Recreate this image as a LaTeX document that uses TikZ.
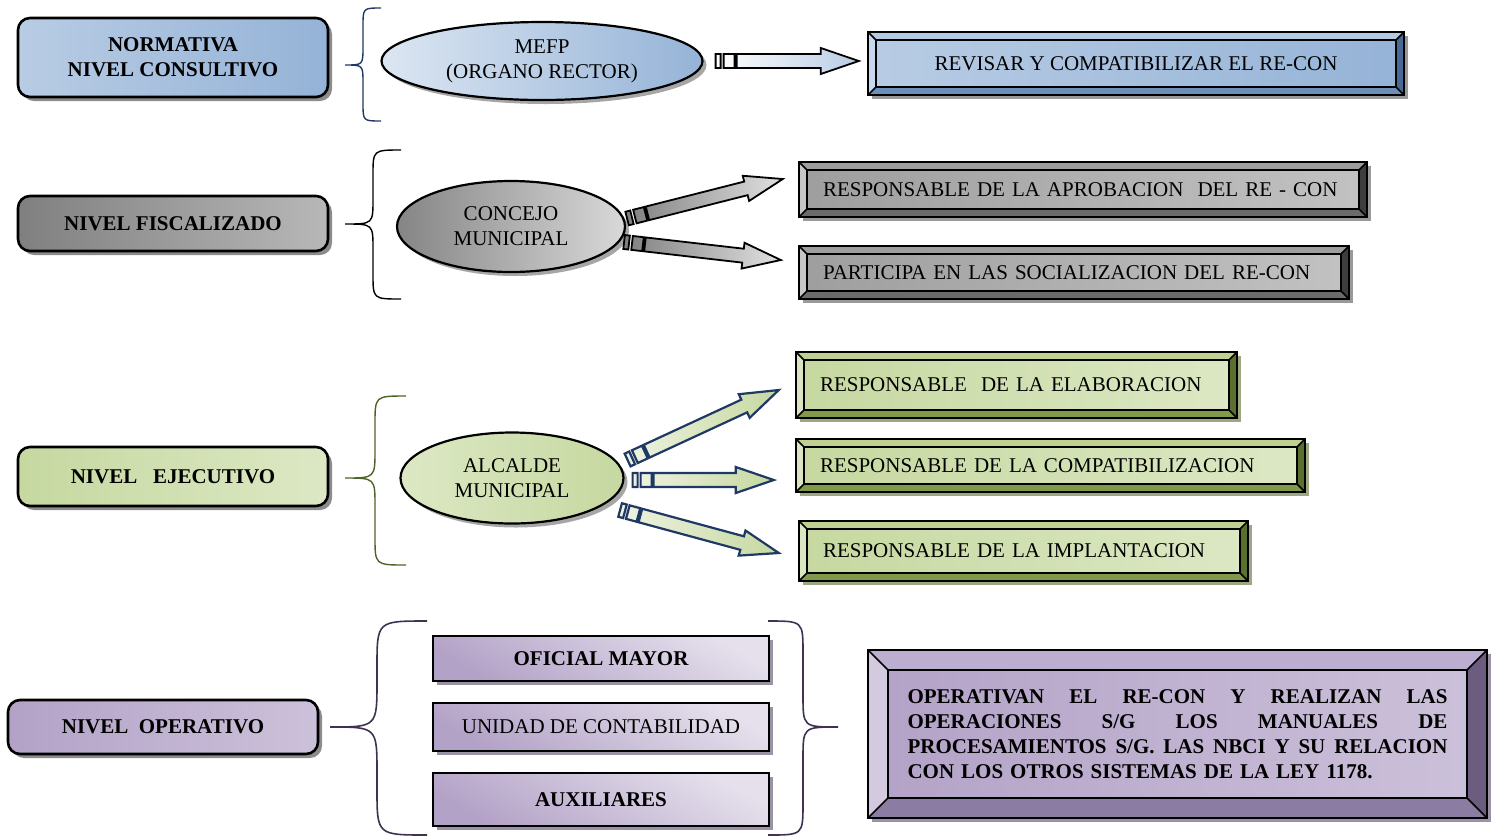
\documentclass[tikz,border=0pt]{standalone}
\usepackage{fontspec}
\setmainfont{Liberation Serif}
\usetikzlibrary{calc,shadows,shapes.geometric}

\definecolor{blueL}{HTML}{DCE6F2}
\definecolor{blueM}{HTML}{B8CCE4}
\definecolor{blueD}{HTML}{95B3D7}
\definecolor{blueTop}{HTML}{B4C9E4}
\definecolor{blueLeft}{HTML}{C8D8EC}
\definecolor{blueRight}{HTML}{4A6A96}
\definecolor{blueBot}{HTML}{6F8FBB}
\definecolor{greenL}{HTML}{EEF3E2}
\definecolor{greenM}{HTML}{DCE8C4}
\definecolor{greenD}{HTML}{C6D8A0}
\definecolor{greenTop}{HTML}{BED192}
\definecolor{greenLeft}{HTML}{DAE6C2}
\definecolor{greenRight}{HTML}{5A702E}
\definecolor{greenBot}{HTML}{809A4A}
\definecolor{greenSh}{HTML}{9DA883}
\definecolor{purpleL}{HTML}{E5E0EC}
\definecolor{purpleM}{HTML}{CCC1DA}
\definecolor{purpleD}{HTML}{B3A2C7}
\definecolor{purpleTop}{HTML}{BBAED0}
\definecolor{purpleLeft}{HTML}{D3CAE0}
\definecolor{purpleRight}{HTML}{6B5C80}
\definecolor{purpleBot}{HTML}{8A7CA2}
\definecolor{purpleSh}{HTML}{9A93A6}
\definecolor{braceblue}{HTML}{1F3864}
\definecolor{braceolive}{HTML}{4F6228}
\definecolor{bracepurple}{HTML}{3F3151}
\definecolor{arrblue}{HTML}{1F3864}

\tikzset{
	boxshadow/.style={drop shadow={shadow xshift=2pt, shadow yshift=-2pt, fill=#1, opacity=1}},
	levelbox/.style={rectangle, draw=black, line width=1.3pt, rounded corners=6pt, minimum width=155pt, inner sep=0pt, align=center, font=\fontsize{10.5}{12.5}\selectfont\bfseries, boxshadow=black!45},
	rolell/.style={ellipse, draw=black, line width=1.1pt, inner sep=0pt, align=center, boxshadow=black!35},
	taskbox/.style={rectangle, draw=black, line width=1.2pt, inner xsep=12pt, inner ysep=0pt},
	staffbox/.style={rectangle, draw=black, line width=1.2pt, minimum width=168pt, inner sep=0pt, align=center, top color=purpleL, bottom color=purpleD, shading angle=-30, boxshadow=purpleSh},
	bevel/.style n args={5}{path picture={
		\coordinate (o1) at (path picture bounding box.north west);
		\coordinate (o2) at (path picture bounding box.north east);
		\coordinate (o3) at (path picture bounding box.south east);
		\coordinate (o4) at (path picture bounding box.south west);
		\coordinate (i1) at ($(o1)+(#1,-#1)$);
		\coordinate (i2) at ($(o2)+(-#1,-#1)$);
		\coordinate (i3) at ($(o3)+(-#1,#1)$);
		\coordinate (i4) at ($(o4)+(#1,#1)$);
		\fill[#2] (o1) -- (o2) -- (i2) -- (i1) -- cycle;
		\fill[#3] (o1) -- (i1) -- (i4) -- (o4) -- cycle;
		\fill[#4] (o2) -- (o3) -- (i3) -- (i2) -- cycle;
		\fill[#5] (o4) -- (i4) -- (i3) -- (o3) -- cycle;
		\draw[line width=0.8pt] (i1) rectangle (i3) (o1) -- (i1) (o2) -- (i2) (o3) -- (i3) (o4) -- (i4);
	}},
	bluebevel/.style={taskbox, bevel={4pt}{blueTop}{blueLeft}{blueRight}{blueBot}, left color=blueM, middle color=blueL, right color=blueD, boxshadow=black!40},
	graybevel/.style={taskbox, bevel={4pt}{black!38}{black!22}{black!76}{black!58}, left color=black!38, middle color=black!6, right color=black!24, boxshadow=black!40},
	greenbevel/.style={taskbox, bevel={4pt}{greenTop}{greenLeft}{greenRight}{greenBot}, left color=greenD, middle color=greenL, right color=greenM, boxshadow=greenSh},
	purplebevel/.style={taskbox, bevel={10pt}{purpleTop}{purpleLeft}{purpleRight}{purpleBot}, left color=purpleD, middle color=purpleL, right color=purpleM, boxshadow=purpleSh},
	bluearr/.style={draw=black, line width=0.9pt, left color=white, right color=blueM},
	bluearrsh/.style={fill=black!30},
	grayarr/.style={draw=black, line width=0.9pt, left color=black!50, right color=black!12},
	grayarrsh/.style={fill=black!30},
	greenarr/.style={draw=arrblue, line width=1.1pt, left color=greenL, right color=greenD},
	greenarrsh/.style={fill=greenSh}
}

% brace: [style](x end, x middle, x tip)(y top, y tip, y bottom){round}
\def\curlybrace[#1](#2,#3,#4)(#5,#6,#7)#8{\draw[#1] (#2,#5) .. controls (#3,#5) .. (#3,{#5+#8}) -- (#3,{#6-#8}) .. controls (#3,#6) .. (#4,#6) .. controls (#3,#6) .. (#3,{#6+#8}) -- (#3,{#7-#8}) .. controls (#3,#7) .. (#2,#7);}

% striped block arrow from #1 to #2
\newcommand\blockarrow[3]{%
	\path (#1); \pgfgetlastxy{\arrAx}{\arrAy}
	\path (#2); \pgfgetlastxy{\arrBx}{\arrBy}
	\pgfmathsetmacro\arrang{atan2(\arrBy-\arrAy,\arrBx-\arrAx)}
	\pgfmathsetmacro\arrlen{veclen(\arrBx-\arrAx,\arrBy-\arrAy)}
	\pgfmathsetmacro\arrhead{\arrlen-19}
	\begin{scope}[shift={(1.5pt,-1.5pt)}, shift={(#1)}, rotate=\arrang]
		\fill[#3sh] (0pt,-3.5pt) rectangle (2.5pt,3.5pt) (4pt,-3.5pt) rectangle (9.5pt,3.5pt) (10.5pt,-3.5pt) -- (\arrhead pt,-3.5pt) -- (\arrhead pt,-6.5pt) -- (\arrlen pt,0pt) -- (\arrhead pt,6.5pt) -- (\arrhead pt,3.5pt) -- (10.5pt,3.5pt) -- cycle;
	\end{scope}
	\begin{scope}[shift={(#1)}, rotate=\arrang]
		\filldraw[#3] (0pt,-3.5pt) rectangle (2.5pt,3.5pt) (4pt,-3.5pt) rectangle (9.5pt,3.5pt) (10.5pt,-3.5pt) -- (\arrhead pt,-3.5pt) -- (\arrhead pt,-6.5pt) -- (\arrlen pt,0pt) -- (\arrhead pt,6.5pt) -- (\arrhead pt,3.5pt) -- (10.5pt,3.5pt) -- cycle;
	\end{scope}
}

\begin{document}
\begin{tikzpicture}[x=0.5pt, y=-0.5pt, font=\fontsize{10.5}{12.5}\selectfont]
	%%%%% START %%%%%
	\useasboundingbox (0,0) rectangle (1495,837);
	
	% nivel consultivo
	\node[levelbox, minimum height=39.5pt, left color=blueM, middle color=blueL, right color=blueD] (nnorm) at (173,57.5) {NORMATIVA\\NIVEL CONSULTIVO};
	\curlybrace[line width=0.7pt, color=braceblue](381,363,345)(8,65,121){18}
	\node[rolell, minimum width=160.5pt, minimum height=39pt, left color=blueL, right color=blueD] (mefp) at (542,61) {MEFP\\(ORGANO RECTOR)};
	\node[bluebevel, minimum width=268pt, minimum height=31.5pt, align=center] (revisar) at (1136,63.5) {REVISAR Y COMPATIBILIZAR EL RE-CON};
	\coordinate (a1s) at ($(mefp.east)+(12,0)$);
	\coordinate (a1e) at ($(revisar.west)+(-8,-2.5)$);
	\blockarrow{a1s}{a1e}{bluearr}
	
	% nivel fiscalizado
	\node[levelbox, minimum height=27.5pt, left color=black!50, middle color=black!22, right color=black!28] (nfis) at (173,223.5) {NIVEL FISCALIZADO};
	\curlybrace[line width=0.7pt, color=black](401,373,345)(150,224,299){25}
	\node[rolell, minimum width=114pt, minimum height=45.5pt, left color=black!48, right color=black!15] (concejo) at (511,226.5) {CONCEJO\\MUNICIPAL};
	\node[graybevel, minimum width=284pt, minimum height=27.5pt, text width=260pt, align=left] (aprob) at (1083,189.5) {RESPONSABLE DE LA APROBACION~ DEL RE - CON};
	\node[graybevel, minimum width=275pt, minimum height=26.5pt, text width=251pt, align=left] (partic) at (1074,272.5) {PARTICIPA EN LAS SOCIALIZACION DEL RE-CON};
	\coordinate (a2s) at ($(concejo.east)+(1,-8)$);
	\coordinate (a2e) at ($(aprob.west)+(-15,-10.5)$);
	\coordinate (a3s) at ($(concejo.east)+(-2,15.5)$);
	\coordinate (a3e) at ($(partic.west)+(-17,-12.5)$);
	\blockarrow{a2s}{a2e}{grayarr}
	\blockarrow{a3s}{a3e}{grayarr}
	
	% nivel ejecutivo
	\node[levelbox, minimum height=29.5pt, left color=greenD, middle color=greenL, right color=greenM] (neje) at (173,476.5) {NIVEL~~ EJECUTIVO};
	\curlybrace[line width=0.7pt, color=braceolive](406,375,345)(396,478,565){28}
	\node[rolell, minimum width=111.5pt, minimum height=45.5pt, left color=greenM, middle color=greenL, right color=greenD] (alcalde) at (512,478) {ALCALDE\\MUNICIPAL};
	\node[greenbevel, minimum width=220.5pt, minimum height=33pt, text width=196.5pt, align=left] (elab) at (1016.5,385) {RESPONSABLE~ DE LA ELABORACION};
	\node[greenbevel, minimum width=254.5pt, minimum height=26.5pt, text width=230.5pt, align=left] (compat) at (1050.5,465.5) {RESPONSABLE DE LA COMPATIBILIZACION};
	\node[greenbevel, minimum width=224.5pt, minimum height=30pt, text width=200.5pt, align=left] (implant) at (1023.5,551) {RESPONSABLE DE LA IMPLANTACION};
	\coordinate (a4s) at ($(alcalde.east)+(3,-18)$);
	\coordinate (a4e) at ($(elab.west)+(-16,5)$);
	\coordinate (a5s) at ($(alcalde.east)+(8,2)$);
	\coordinate (a5e) at ($(compat.west)+(-21,14.5)$);
	\coordinate (a6s) at ($(alcalde.east)+(-4.5,32)$);
	\coordinate (a6e) at ($(implant.west)+(-19,2)$);
	\blockarrow{a4s}{a4e}{greenarr}
	\blockarrow{a5s}{a5e}{greenarr}
	\blockarrow{a6s}{a6e}{greenarr}
	
	% nivel operativo
	\node[levelbox, minimum height=27pt, left color=purpleD, middle color=purpleL, right color=purpleM] (nope) at (163,727) {NIVEL~ OPERATIVO};
	\curlybrace[line width=0.8pt, color=bracepurple](427,377,330)(621,727,835){46}
	\node[staffbox, minimum height=22.5pt, font=\fontsize{10.5}{12.5}\selectfont\bfseries] (ofic) at (601,658.5) {OFICIAL MAYOR};
	\node[staffbox, minimum height=24pt] (unid) at (601,727) {UNIDAD DE CONTABILIDAD};
	\node[staffbox, minimum height=26.5pt, font=\fontsize{10.5}{12.5}\selectfont\bfseries] (aux) at (601,799.5) {AUXILIARES};
	\curlybrace[line width=0.8pt, color=bracepurple](768,803,838)(621,727,835){32}
	\node[purplebevel, minimum width=309.5pt, minimum height=84pt, inner xsep=19.75pt, text width=270pt, align=left, font=\fontsize{10.5}{12.4}\selectfont\bfseries] (operan) at (1177.5,734) {\makebox[270pt]{OPERATIVAN\hfill EL\hfill RE-CON\hfill Y\hfill REALIZAN\hfill LAS}\\\makebox[270pt]{OPERACIONES\hfill S/G\hfill LOS\hfill MANUALES\hfill DE}\\\makebox[270pt]{PROCESAMIENTOS\hfill S/G.\hfill LAS\hfill NBCI\hfill Y\hfill SU\hfill RELACION}\\CON LOS OTROS SISTEMAS DE LA LEY 1178.};
	
	%%%%% END %%%%%
\end{tikzpicture}
\end{document}
